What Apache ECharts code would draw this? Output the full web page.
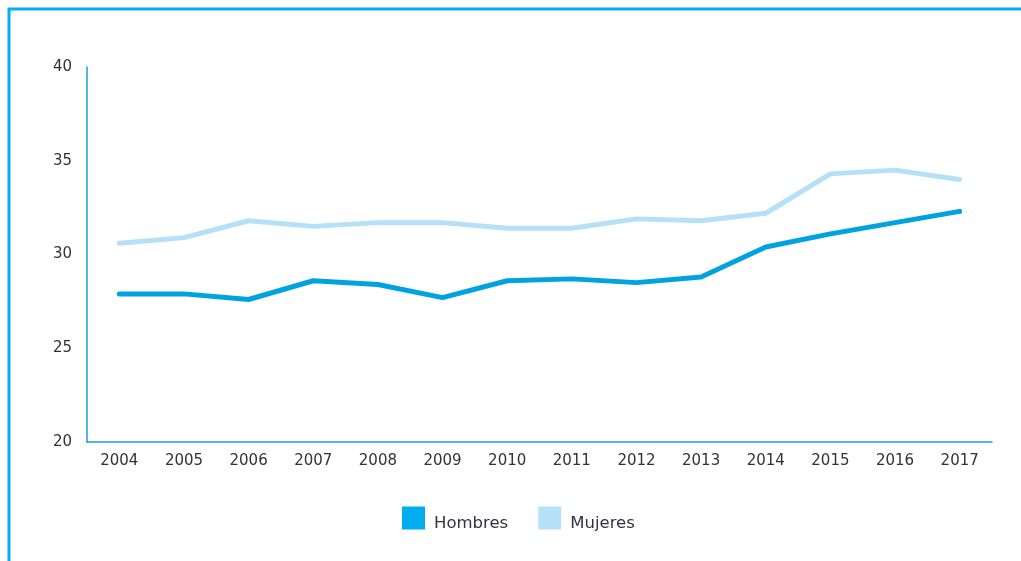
<!DOCTYPE html>
<html>
<head>
<meta charset="utf-8">
<script src="https://cdn.jsdelivr.net/npm/echarts@6/dist/echarts.min.js"></script>
<style>
  html, body { margin: 0; padding: 0; background: #fff; }
  #chart { width: 1021px; height: 561px; }
</style>
</head>
<body>
<div id="chart"></div>
<script>
const years = ['2004', '2005', '2006', '2007', '2008', '2009', '2010', '2011', '2012', '2013', '2014', '2015', '2016', '2017']
const hombres = [27.9, 27.9, 27.6, 28.6, 28.4, 27.7, 28.6, 28.7, 28.5, 28.8, 30.4, 31.1, 31.7, 32.3]
const mujeres = [30.6, 30.9, 31.8, 31.5, 31.7, 31.7, 31.4, 31.4, 31.9, 31.8, 32.2, 34.3, 34.5, 34.0]

const axisColor = '#1a9fd9'
const textStyle = { color: '#333', fontSize: 15, fontFamily: 'DejaVu Sans' }

const chart = echarts.init(document.getElementById('chart'))
chart.setOption({
  animation: false,
  graphic: [
    {
      type: 'polyline',
      shape: { points: [[9, 561], [9, 9], [1021, 9]] },
      style: { stroke: '#00b0ef', lineWidth: 3, fill: null }
    }
  ],
  grid: { left: 87, right: 29, top: 67, bottom: 119 },
  legend: {
    top: 504,
    left: 402,
    padding: 0,
    itemWidth: 23,
    itemHeight: 23,
    itemGap: 30,
    icon: 'rect',
    formatter: name => '{t|' + name + '}',
    textStyle: {
      rich: {
        t: {
          color: '#33333f',
          fontSize: 16.5,
          fontFamily: 'DejaVu Sans',
          lineHeight: 17,
          padding: [11, 0, 0, 4]
        }
      }
    },
    data: ['Hombres', 'Mujeres']
  },
  xAxis: {
    type: 'category',
    data: years,
    axisLine: { lineStyle: { color: axisColor, width: 1.5 } },
    axisTick: { show: false },
    axisLabel: { ...textStyle, margin: 12 }
  },
  yAxis: {
    type: 'value',
    min: 20,
    max: 40,
    interval: 5,
    axisLine: { show: true, lineStyle: { color: axisColor, width: 1.5 } },
    axisTick: { show: false },
    splitLine: { show: false },
    axisLabel: { ...textStyle, margin: 15 }
  },
  series: [
    {
      name: 'Hombres',
      type: 'line',
      data: hombres,
      symbol: 'none',
      color: '#00aeef',
      lineStyle: { color: '#00a3e0', width: 5, cap: 'round', join: 'round' }
    },
    {
      name: 'Mujeres',
      type: 'line',
      data: mujeres,
      symbol: 'none',
      color: '#b5e0f7',
      lineStyle: { color: '#b5e0f7', width: 5, cap: 'round', join: 'round' }
    }
  ]
})
</script>
</body>
</html>
